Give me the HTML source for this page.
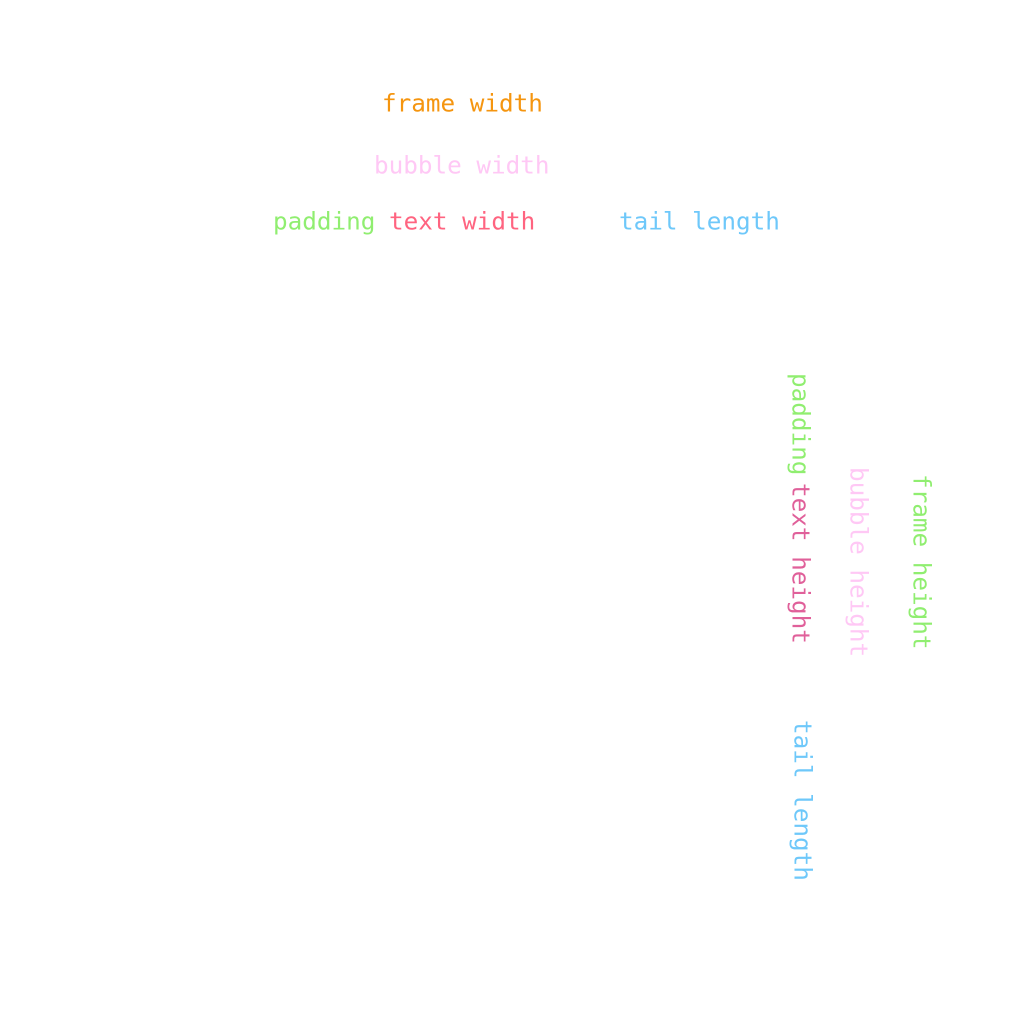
<!DOCTYPE html>
<html>
<head>
<meta charset="utf-8">
<style>
  html, body { margin: 0; padding: 0; background: #ffffff; }
  svg { display: block; }
  text { font-family: "DejaVu Sans Mono", "Liberation Mono", monospace; font-size: 24.3px; }
</style>
</head>
<body>
<svg width="1024" height="1024" viewBox="0 0 1024 1024">
  <rect x="0" y="0" width="1024" height="1024" fill="#ffffff"/>

  <text x="382" y="103" dominant-baseline="central" fill="#f5950f">frame width</text>
  <text x="374" y="165" dominant-baseline="central" fill="#ffc8f5">bubble width</text>
  <text x="273" y="221" dominant-baseline="central" fill="#90ee70">padding</text>
  <text x="389" y="221" dominant-baseline="central" fill="#ff6480">text width</text>
  <text x="619" y="221" dominant-baseline="central" fill="#6ec8fa">tail length</text>

  <text transform="translate(801,373) rotate(90)" dominant-baseline="central" fill="#90ee70">padding</text>
  <text transform="translate(801,483) rotate(90)" dominant-baseline="central" fill="#e0609a">text height</text>
  <text transform="translate(859,467) rotate(90)" dominant-baseline="central" fill="#ffc8f5">bubble height</text>
  <text transform="translate(922,474) rotate(90)" dominant-baseline="central" fill="#90ee70">frame height</text>
  <text transform="translate(803,720) rotate(90)" dominant-baseline="central" fill="#6ec8fa">tail length</text>
</svg>
</body>
</html>
